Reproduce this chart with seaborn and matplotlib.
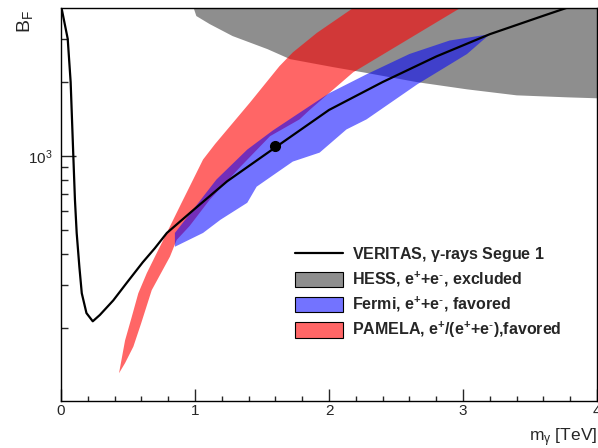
import numpy as np
import matplotlib
matplotlib.use("Agg")
import matplotlib.pyplot as plt
import seaborn as sns
from matplotlib.lines import Line2D
from matplotlib.patches import Patch
from matplotlib.ticker import FixedLocator, FixedFormatter, NullFormatter, MultipleLocator

# VERITAS limit curve (m_chi in TeV, boost factor)
veritas_m = [0.0, 0.05, 0.072, 0.092, 0.104, 0.117, 0.137, 0.155, 0.19, 0.237, 0.29,
             0.39, 0.49, 0.61, 0.70, 0.79, 0.99, 1.24, 1.49, 1.60, 1.78, 2.0, 2.4,
             2.8, 3.2, 3.6, 3.8]
veritas_bf = [4100, 3000, 2000, 1000, 665, 487, 355, 277, 230, 213, 226,
              259, 305, 370, 422, 487, 605, 790, 985, 1085, 1270, 1540, 2000,
              2540, 3130, 3720, 4050]

# benchmark point
point_m = [1.6]
point_bf = [1100]

# HESS e+e- excluded region (outline)
hess_m = [0.99, 1.01, 1.11, 1.28, 1.54, 1.71, 2.03, 2.28, 2.66, 3.03, 3.40, 3.78, 4.0, 4.0]
hess_bf = [4000, 3710, 3440, 3077, 2723, 2478, 2300, 2178, 1997, 1868, 1766, 1733, 1718, 4000]

# Fermi e+e- favored region (outline)
fermi_m = [0.85, 0.85, 0.985, 1.16, 1.39, 1.58, 1.78, 2.0, 2.28, 2.6, 2.9, 3.20,
           3.03, 2.66, 2.28, 2.13, 1.93, 1.73, 1.61, 1.46, 1.39, 1.19, 1.06]
fermi_bf = [428, 487, 605, 803, 1063, 1270, 1500, 1800, 2150, 2600, 2950, 3130,
            2600, 1960, 1410, 1283, 1033, 950, 856, 751, 646, 551, 487]

# PAMELA e+/(e+ + e-) favored region (outline)
pamela_m = [0.433, 0.478, 0.528, 0.577, 0.64, 0.701, 0.763, 0.826, 0.90, 0.948, 1.06,
            1.15, 1.41, 1.63, 1.73, 1.91, 2.18, 2.98, 2.18, 1.86, 1.78, 1.56, 1.34,
            1.11, 0.96, 0.863, 0.813, 0.677, 0.597, 0.54, 0.478]
pamela_bf = [131, 178, 222, 277, 334, 390, 456, 535, 646, 729, 968,
             1120, 1650, 2320, 2640, 3170, 4000, 4000, 2190, 1548, 1410, 1205, 906,
             665, 520, 456, 390, 285, 208, 168, 144]

labels = ["VERITAS, $\\gamma$-rays Segue 1",
          "HESS, e$^{+}$+e$^{\\text{-}}$, excluded",
          "Fermi, e$^{+}$+e$^{\\text{-}}$, favored",
          "PAMELA, e$^{+}$/(e$^{+}$+e$^{\\text{-}}$),favored"]

sns.set_theme(style="ticks")
plt.rcParams["font.family"] = ["Liberation Sans", "DejaVu Sans"]
plt.rcParams["mathtext.default"] = "regular"

hess_col = "#8e8e8e"
fermi_col = (0.0, 0.0, 1.0, 0.55)
pamela_col = (1.0, 0.0, 0.0, 0.6)

fig = plt.figure(figsize=(5.98, 4.48), dpi=100)
ax = fig.add_axes([61 / 598, 47 / 448, 536 / 598, 393 / 448])

ax.fill(hess_m, hess_bf, color=hess_col, lw=0, zorder=1)
ax.fill(pamela_m, pamela_bf, color=pamela_col, lw=0, zorder=2)
ax.fill(fermi_m, fermi_bf, color=fermi_col, lw=0, zorder=3)
sns.lineplot(x=veritas_m, y=veritas_bf, ax=ax, color="black", lw=1.6,
             sort=False, estimator=None, zorder=4)
ax.plot(point_m, point_bf, "o", color="black", ms=7, zorder=5)

ax.set_yscale("log")
ax.set_xlim(0, 4)
ax.set_ylim(101, 4000)

ax.xaxis.set_major_locator(MultipleLocator(1))
ax.xaxis.set_minor_locator(MultipleLocator(0.2))
ax.yaxis.set_major_locator(FixedLocator([1000]))
ax.yaxis.set_major_formatter(FixedFormatter(["$10^{3}$"]))
ax.yaxis.set_minor_locator(FixedLocator([200, 300, 400, 500, 600, 700, 800, 900, 2000, 3000]))
ax.yaxis.set_minor_formatter(NullFormatter())

ax.tick_params(axis="x", which="major", direction="in", length=8.5, width=1, pad=2.5, labelsize=11)
ax.tick_params(axis="x", which="minor", direction="in", length=3.8, width=1)
ax.tick_params(axis="y", which="major", direction="in", length=11, width=1, pad=6, labelsize=11)
ax.tick_params(axis="y", which="minor", direction="in", length=5.2, width=1)
for sp in ax.spines.values():
    sp.set_color("black")
    sp.set_linewidth(1)

ax.set_xlabel("m$_{\\gamma}$ [TeV]", loc="right", fontsize=12.5)
ax.xaxis.set_label_coords(1.0, -0.065)
ax.set_ylabel("B$_{F}$", loc="top", fontsize=14)
ax.yaxis.set_label_coords(-0.048, 0.995)

handles = [Line2D([0], [0], color="black", lw=1.6),
           Patch(facecolor=hess_col, edgecolor="black", lw=0.8),
           Patch(facecolor=fermi_col, edgecolor="black", lw=0.8),
           Patch(facecolor=pamela_col, edgecolor="black", lw=0.8)]
ax.legend(handles, labels, loc="center left", bbox_to_anchor=(0.4366, 0.275),
          frameon=False, borderpad=0, borderaxespad=0, handlelength=3.0,
          handleheight=1.13, handletextpad=0.55, labelspacing=0.36,
          prop={"weight": "bold", "size": 11.5})

fig.savefig("out.png", dpi=100)
